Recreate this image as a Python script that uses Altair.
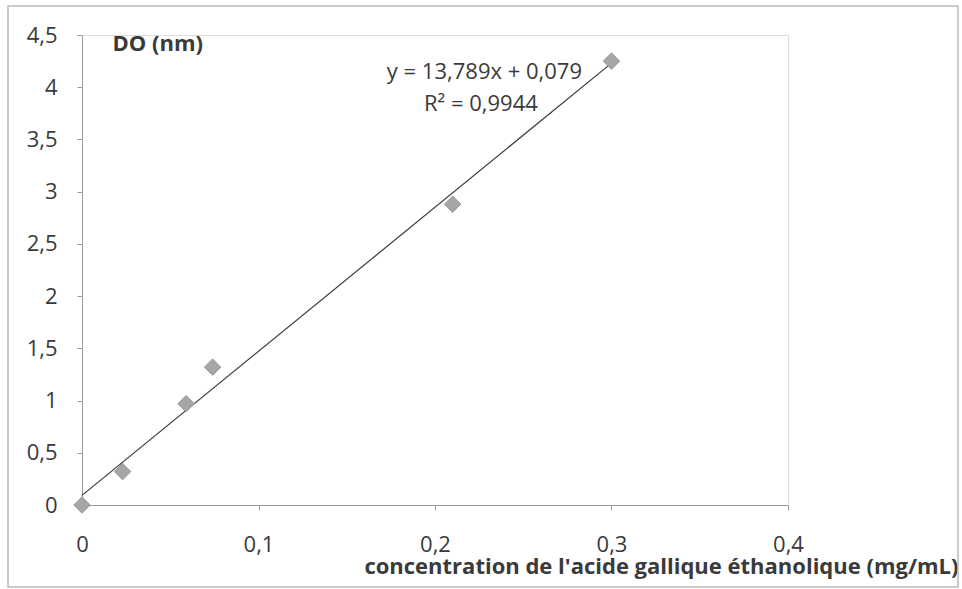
import altair as alt
import pandas as pd

# Data
concentration = [0.0, 0.023, 0.059, 0.074, 0.21, 0.30]
do_values = [0.0, 0.32, 0.97, 1.32, 2.88, 4.25]

eq_text = ["y = 13,789x + 0,079", "R² = 0,9944"]
eq_x = [0.228, 0.226]
eq_y = [4.15, 3.84]

x_ticks = [0, 0.1, 0.2, 0.3, 0.4]
y_ticks = [0, 0.5, 1, 1.5, 2, 2.5, 3, 3.5, 4, 4.5]

df = pd.DataFrame({"x": concentration, "y": do_values})
ann = pd.DataFrame({"x": eq_x, "y": eq_y, "t": eq_text})

FONT = "Open Sans"
TXT = "#3a3a3a"
comma = "replace(toString(datum.value), '.', ',')"

xscale = alt.Scale(domain=[0, 0.4], nice=False, zero=True)
yscale = alt.Scale(domain=[0, 4.5], nice=False, zero=True)

xaxis = alt.Axis(
    values=x_ticks, labelExpr=comma, grid=False, domainColor="#999999",
    tickColor="#999999", tickSize=5, labelPadding=24, labelFontSize=22,
    labelFont=FONT, labelColor=TXT, labelFlush=False, labelOverlap=False,
    title="concentration de l'acide gallique éthanolique (mg/mL)",
    titleFont=FONT, titleFontSize=22, titleFontWeight="bold", titleColor=TXT,
    titleAnchor="end", titleAlign="right", titleX=876, titleY=68,
    titleBaseline="alphabetic",
)
yaxis = alt.Axis(
    values=y_ticks, labelExpr=comma, grid=False, domainColor="#999999",
    tickColor="#999999", tickSize=5, labelPadding=20, labelFontSize=22,
    labelFont=FONT, labelColor=TXT, labelFlush=False, labelOverlap=False,
    title="DO (nm)", titleFont=FONT, titleFontSize=22,
    titleFontWeight="bold", titleColor=TXT, titleAngle=0,
    titleAlign="left", titleX=30, titleY=8, titleBaseline="middle",
)

base = alt.Chart(df)

frame = alt.Chart(pd.DataFrame({"a": [0]})).mark_rect(
    fill=None, stroke="#bbbbbb", strokeWidth=1.5
).encode(
    x=alt.value(-74), x2=alt.value(876), y=alt.value(-29), y2=alt.value(552)
)

points = base.mark_point(
    shape="diamond", filled=True, size=270, color="#a6a6a6",
    stroke="#959595", strokeWidth=1, opacity=1
).encode(
    x=alt.X("x:Q", scale=xscale, axis=xaxis),
    y=alt.Y("y:Q", scale=yscale, axis=yaxis),
)

trend = base.transform_regression(
    "x", "y", extent=[0, 0.3]
).mark_line(color="#3a3a3a", strokeWidth=1.2).encode(
    x=alt.X("x:Q", scale=xscale),
    y=alt.Y("y:Q", scale=yscale),
)

labels = alt.Chart(ann).mark_text(
    font=FONT, fontSize=22, color=TXT, align="center", baseline="middle"
).encode(
    x=alt.X("x:Q", scale=xscale),
    y=alt.Y("y:Q", scale=yscale),
    text="t:N",
)

chart = alt.layer(frame, trend, points, labels).properties(
    width=706, height=470,
    autosize=alt.AutoSizeParams(type="none"),
    padding={"left": 82, "top": 35, "right": 174, "bottom": 84},
).configure_view(stroke=None).configure(background="white")

chart.save("out.html", embed_options={"renderer": "svg", "actions": False})
